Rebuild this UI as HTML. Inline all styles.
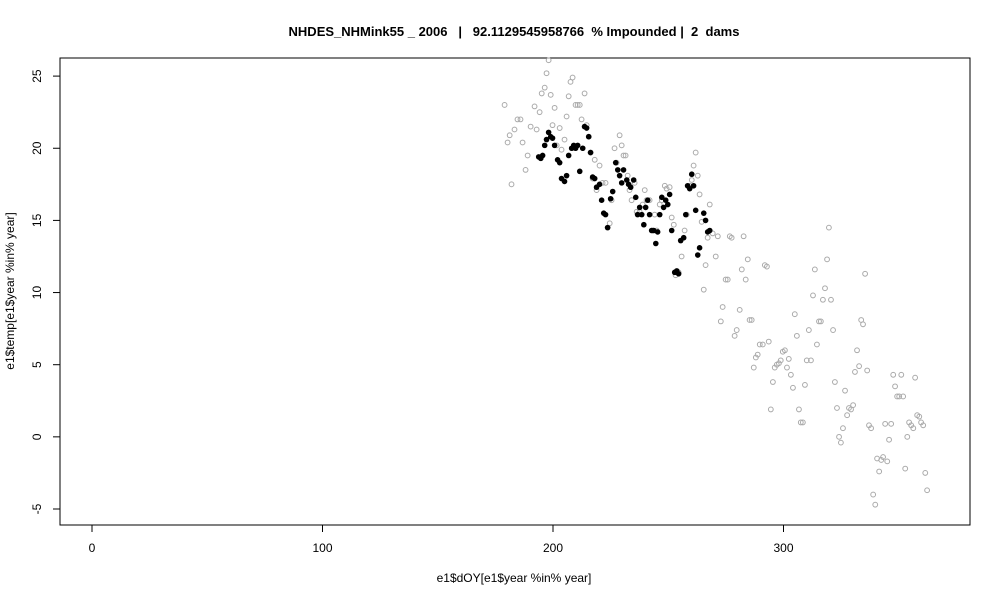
<!DOCTYPE html>
<html><head><meta charset="utf-8"><style>body{margin:0;background:#fff}svg{display:block}text{font-family:"Liberation Sans",Arial,sans-serif}</style></head>
<body>
<svg id="chart" width="1000" height="600">
<rect width="1000" height="600" fill="#fff"/>
<text x="514" y="36" text-anchor="middle" font-size="13" font-weight="bold" style="white-space:pre">NHDES_NHMink55 _ 2006   |   92.1129545958766  % Impounded |  2  dams</text>
<rect x="60" y="58" width="910" height="467" fill="none" stroke="#000"/>
<g id="xaxis"></g>
<g id="yaxis"></g>
<text x="514" y="582" text-anchor="middle" font-size="12">e1$dOY[e1$year %in% year]</text>
<text transform="translate(14,291) rotate(-90)" text-anchor="middle" font-size="12">e1$temp[e1$year %in% year]</text>
<g id="pts"></g>
</svg>
<script>
const xTicks=[0,100,200,300];
const yTicks=[-5,0,5,10,15,20,25];
const grayDoy=[179,180.3,181.2,182,183.3,184.6,185.9,186.8,188.1,189,190.3,192,192.9,194.2,195.1,196.4,197.2,198.1,199,199.8,200.7,201.6,202.9,203.7,205,205.9,206.8,207.6,208.5,209.8,210.7,211.6,212.4,213.7,214.6,215.5,216.3,217.2,218.1,218.9,220.2,221.5,222.8,223.7,224.6,225.4,226.7,227.6,228.9,229.8,230.6,231.5,232.4,233.2,234.1,235.4,236.3,237.6,238.9,239.8,240.6,241.9,243.2,244.1,245,246.3,247.2,248.5,249.3,250.6,251.5,252.4,253.2,254.5,255.8,257.1,258,259.3,260.2,261,261.9,262.8,263.6,264.5,265.4,266.2,267.1,268,269.3,270.6,271.5,272.8,273.6,274.9,275.8,276.7,277.5,278.8,279.7,281,281.9,282.7,283.6,284.5,285.3,286.2,287.1,288,288.8,289.7,291,291.9,292.8,293.6,294.5,295.4,296.2,297.1,298,298.8,299.7,300.6,301.5,302.3,303.2,304.1,304.9,305.8,306.7,307.5,308.4,309.3,310.1,311,311.9,312.8,313.6,314.5,315.4,316.2,317.1,318,318.9,319.7,320.6,321.5,322.3,323.2,324.1,324.9,325.8,326.7,327.6,328.4,329.3,330.2,331,331.9,332.8,333.7,334.5,335.4,336.3,337.1,338,338.9,339.8,340.6,341.5,342.4,343.2,344.1,345,345.8,346.7,347.6,348.4,349.3,350.2,351.1,351.9,352.8,353.7,354.5,355.4,356.3,357.1,358,358.9,359.7,360.6,361.5,362.3];
const grayTemp=[23.0,20.4,20.9,17.5,21.3,22.0,22.0,20.4,18.5,19.5,21.5,22.9,21.3,22.5,23.8,24.2,25.2,26.1,23.7,21.6,22.8,20.2,21.4,19.9,20.6,22.2,23.6,24.6,24.9,23.0,23.0,23.0,22.0,23.8,21.6,20.8,19.7,17.9,19.2,17.1,18.8,17.6,17.6,14.5,14.8,16.4,20.0,19.0,20.9,20.2,19.5,19.5,18.1,17.1,16.4,17.6,15.6,15.6,16.1,17.1,16.4,16.4,14.3,15.4,14.3,16.1,16.4,17.4,17.2,17.3,15.2,14.7,11.2,11.4,12.5,14.3,15.4,17.4,17.8,18.8,19.7,18.1,16.8,14.9,10.2,11.9,13.8,16.1,14.1,12.5,13.9,8.0,9.0,10.9,10.9,13.9,13.8,7.0,7.4,8.8,11.6,13.9,10.9,12.3,8.1,8.1,4.8,5.5,5.7,6.4,6.4,11.9,11.8,6.6,1.9,3.8,4.8,5.0,5.1,5.3,5.9,6.0,4.8,5.4,4.3,3.4,8.5,7.0,1.9,1.0,1.0,3.6,5.3,7.4,5.3,9.8,11.6,6.4,8.0,8.0,9.5,10.3,12.3,14.5,9.5,7.4,3.8,2.0,0.0,-0.4,0.6,3.2,1.5,2.0,1.9,2.2,4.5,6.0,4.9,8.1,7.8,11.3,4.6,0.8,0.6,-4.0,-4.7,-1.5,-2.4,-1.6,-1.4,0.9,-1.7,-0.2,0.9,4.3,3.5,2.8,2.8,4.3,2.8,-2.2,0.0,1.0,0.8,0.6,4.1,1.5,1.4,1.0,0.8,-2.5,-3.7];
const blackDoy=[193.8,194.7,195.5,196.4,197.2,198.1,199,199.8,200.7,202,202.9,203.7,205,205.9,206.8,208.1,209,209.8,210.7,211.6,212.9,213.7,214.6,215.5,216.3,217.2,218.1,218.9,220.2,221.1,222,222.8,223.7,225,225.9,227.2,228.1,228.9,229.8,230.6,232,232.8,233.7,235,235.9,236.7,237.6,238.5,239.4,240.2,241.1,241.9,242.8,243.7,244.6,245.4,246.3,247.2,248,248.9,249.8,250.6,251.5,252.8,253.7,254.5,255.4,256.7,257.6,258.4,259.3,260.2,261,261.9,262.8,263.6,265.4,266.2,267.1,268];
const blackTemp=[19.4,19.3,19.5,20.2,20.6,21.1,20.8,20.7,20.2,19.2,19.0,17.9,17.7,18.1,19.5,20.0,20.2,20.0,20.2,18.4,20.0,21.5,21.4,20.8,19.7,18.0,17.9,17.3,17.5,16.4,15.5,15.4,14.5,16.5,17.0,19.0,18.5,18.1,17.6,18.5,17.8,17.5,17.3,17.8,16.6,15.4,15.9,15.4,14.7,15.9,16.4,15.4,14.3,14.3,13.4,14.2,15.4,16.6,15.9,16.4,16.1,16.8,14.3,11.4,11.5,11.3,13.6,13.8,15.4,17.4,17.2,18.2,17.4,15.7,12.6,13.1,15.5,15.0,14.2,14.3];
const X=d=>92+d*2.305, Y=t=>509-(t+5)*14.43;
const NS='http://www.w3.org/2000/svg';
const xa=document.getElementById('xaxis'), ya=document.getElementById('yaxis'), pg=document.getElementById('pts');
function mk(tag,attrs,parent){const e=document.createElementNS(NS,tag);for(const k in attrs)e.setAttribute(k,attrs[k]);parent.appendChild(e);return e;}
mk('line',{x1:X(0),x2:X(300),y1:525,y2:525,stroke:'#000'},xa);
xTicks.forEach(v=>{
  const l=mk('line',{x1:X(v),x2:X(v),y1:525,y2:532,stroke:'#000'},xa);
  
  
  const t=mk('text',{x:X(v),y:552,'text-anchor':'middle','font-size':12},xa);
  t.textContent=v;
  
  
});
mk('line',{x1:60,x2:60,y1:Y(-5),y2:Y(25),stroke:'#000'},ya);
yTicks.forEach(v=>{
  const l=mk('line',{x1:53,x2:60,y1:Y(v),y2:Y(v),stroke:'#000'},ya);
  
  
  const t=mk('text',{transform:`translate(41,${Y(v)}) rotate(-90)`,'text-anchor':'middle','font-size':12},ya);
  t.textContent=v;
  
  
});
grayDoy.forEach((d,i)=>{
  const c=mk('circle',{cx:X(d),cy:Y(grayTemp[i]),r:2.4,fill:'none',stroke:'#aaa','stroke-width':1},pg);
  
  
});
blackDoy.forEach((d,i)=>{
  const c=mk('circle',{cx:X(d),cy:Y(blackTemp[i]),r:2.8,fill:'#000'},pg);
  
  
});
</script>
</body></html>
